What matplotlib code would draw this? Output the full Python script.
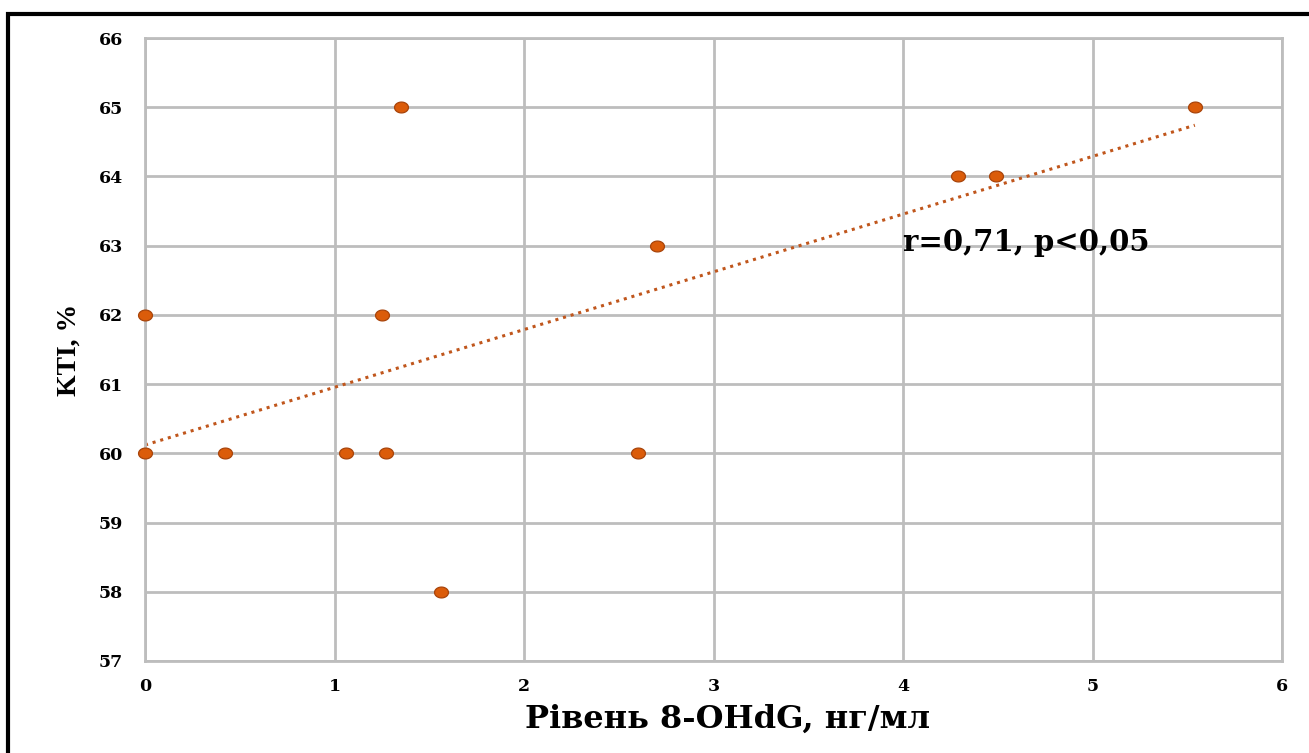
import numpy as np
import matplotlib.pyplot as plt
from matplotlib.path import Path
from matplotlib.patches import Rectangle

# 8-OHdG level (ng/ml) vs KTI (%)
x_vals = [0.0, 0.0, 0.42, 1.06, 1.27, 1.25, 1.35, 1.56, 2.60, 2.70, 4.29, 4.49, 5.54]
y_vals = [60, 62, 60, 60, 60, 62, 65, 58, 60, 63, 64, 64, 65]
x_ticks = [0, 1, 2, 3, 4, 5, 6]
y_ticks = [57, 58, 59, 60, 61, 62, 63, 64, 65, 66]
# trendline as drawn in the original
TREND_SLOPE = 0.834
TREND_INTERCEPT = 60.12
ANNOT = "r=0,71, p<0,05"

WIDE = ["DejaVu Serif"]
plt.rcParams["font.family"] = ["Liberation Serif", "DejaVu Serif"]
plt.rcParams["font.weight"] = "bold"

# slightly flattened dot, like the stretched original
t = np.linspace(0, 2 * np.pi, 60)
ellipse = Path(np.column_stack([np.cos(t), 0.78 * np.sin(t)]), closed=True)

fig = plt.figure(figsize=(13.09, 7.53), dpi=100)
ax = fig.add_axes([0.1108, 0.1222, 0.8686, 0.8273])

ax.set_xlim(0, 6)
ax.set_ylim(57, 66)
ax.set_xticks(x_ticks)
ax.set_yticks(y_ticks)
ax.grid(True, color="#bdbdbd", lw=2)
ax.set_axisbelow(True)
for s in ax.spines.values():
    s.set_color("#bdbdbd")
    s.set_linewidth(2)
ax.tick_params(axis="x", length=0, pad=12)
ax.tick_params(axis="y", length=0, pad=16)
for lab in ax.get_xticklabels() + ax.get_yticklabels():
    lab.set_fontweight("bold")
    lab.set_fontfamily(WIDE)
    lab.set_fontsize(12.5)

xs = np.array([min(x_vals), max(x_vals)])
ax.plot(xs, TREND_SLOPE * xs + TREND_INTERCEPT, ls=(0, (1, 1.6)), lw=2.2,
        color="#c0561c", zorder=2)

ax.scatter(x_vals, y_vals, marker=ellipse, s=100, color="#db5c0a",
           edgecolors="#a8440a", linewidths=0.9, zorder=3, clip_on=False)

ax.text(4.0, 63.05, ANNOT, fontsize=21, fontweight="bold", family=WIDE,
        va="center", ha="left")

ax.set_xlabel("Рівень 8-OHdG, нг/мл", fontsize=23, fontweight="bold", family=WIDE)
ax.xaxis.set_label_coords(0.512, -0.068)
ax.set_ylabel("KTI, %", fontsize=20, fontweight="bold")
ax.yaxis.set_label_coords(-0.0554, 0.5)

# outer black frame (only top/left visible in the crop)
fig.patches.append(Rectangle((8 / 1309, -0.05), 1.1, 1 - 14 / 753 + 0.05,
                             transform=fig.transFigure, fill=False,
                             ec="black", lw=3, zorder=10))

fig.savefig("out.png", dpi=100)
